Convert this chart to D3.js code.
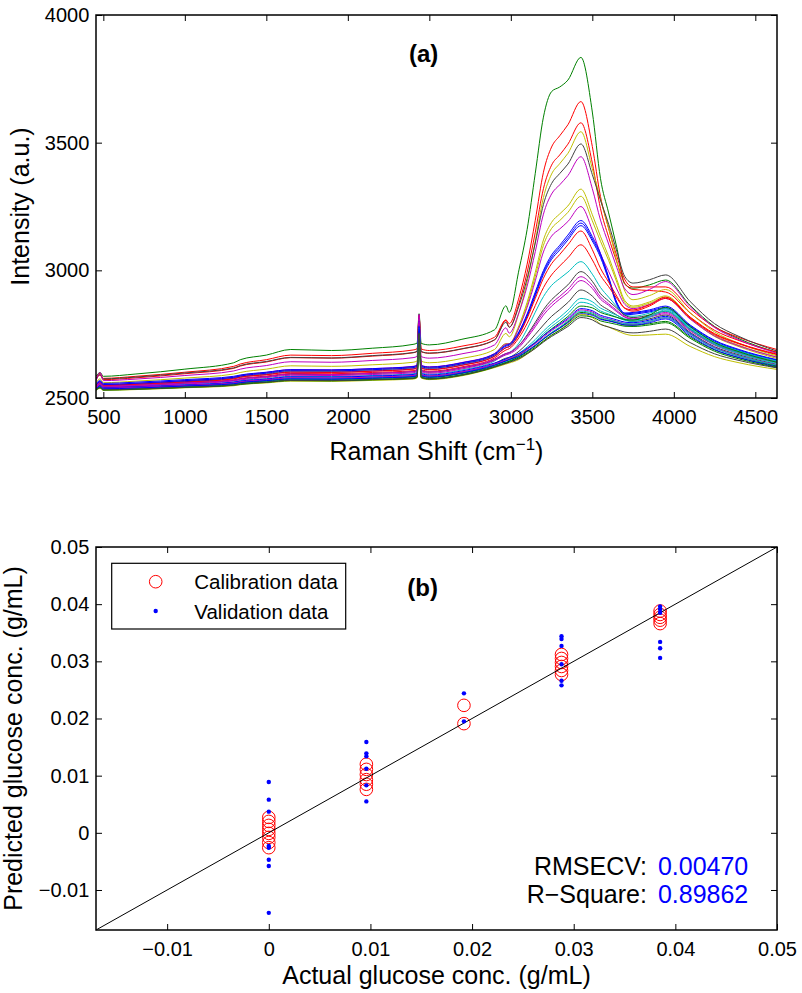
<!DOCTYPE html>
<html><head><meta charset="utf-8">
<script src="https://cdn.jsdelivr.net/npm/d3@7"></script>
<style>
body{margin:0;background:#fff}
svg{display:block}
text{font-family:"Liberation Sans",Arial,Helvetica,sans-serif;fill:#000}
</style>
</head><body>
<svg id="c" width="802" height="993"></svg>
<script>
// ---------------- Panel (a): Raman spectra ----------------
const wavenumbers = [456,480,500,700,1000,1300,1340,1500,1650,1900,
  2150,2400,2425,2437,2450,2500,2700,2900,2970,2990,
  3050,3100,3150,3200,3250,3300,3350,3430,3500,3550,
  3600,3650,3700,3750,3850,3950,4100,4250,4400,4632];

const s01 = [2585,2600,2585,2594,2613,2638,2650,2668,2690,2686, 2695,2710,2715,2830,2714,2708,2730,2767,2861,2835, 3002,3160,3380,3600,3700,3718,3745,3834,3620,3360, 3225,3090,2945,2930,2943,2962,2863,2780,2732,2678];
const s02 = [2577,2597,2577,2585,2601,2624,2633,2650,2668,2666, 2675,2688,2693,2823,2692,2686,2703,2738,2806,2791, 2893,3024,3196,3384,3483,3527,3570,3661,3485,3289, 3164,3056,2963,2935,2935,2935,2849,2778,2737,2690];
const s03 = [2572,2590,2572,2579,2595,2616,2625,2641,2658,2656, 2664,2677,2682,2820,2681,2675,2692,2727,2804,2777, 2871,2992,3149,3320,3412,3452,3494,3578,3420,3242, 3130,3033,2949,2925,2921,2915,2833,2765,2725,2680];
const s04 = [2560,2575,2560,2566,2578,2594,2600,2613,2626,2624, 2630,2640,2645,2810,2644,2638,2655,2690,2753,2740, 2834,2955,3113,3285,3377,3418,3458,3543,3398,3278, 3165,3037,2918,2885,2901,2925,2834,2759,2714,2665];
const s05 = [2575,2592,2575,2582,2598,2618,2627,2643,2659,2657, 2666,2678,2683,2815,2682,2676,2693,2728,2797,2777, 2861,2968,3107,3258,3340,3379,3416,3495,3375,3275, 3181,3075,2975,2950,2963,2982,2878,2791,2741,2684];
const s06 = [2568,2600,2568,2574,2588,2606,2613,2627,2642,2640, 2647,2658,2663,2828,2662,2656,2673,2708,2775,2754, 2835,2938,3073,3220,3299,3335,3371,3445,3320,3197, 3103,3011,2927,2905,2925,2956,2858,2776,2728,2675];
const s07 = [2550,2562,2550,2555,2566,2580,2586,2598,2609,2608, 2613,2622,2627,2800,2626,2620,2637,2672,2713,2713, 2784,2875,2992,3119,3188,3221,3252,3318,3218,3133, 3054,2965,2881,2860,2876,2900,2816,2746,2706,2660];
const s08 = [2548,2560,2548,2553,2563,2577,2583,2594,2605,2604, 2610,2618,2623,2795,2622,2616,2633,2668,2708,2708, 2777,2864,2976,3098,3164,3195,3227,3290,3194,3114, 3039,2954,2874,2855,2871,2895,2811,2741,2701,2655];
const s09 = [2552,2565,2552,2557,2568,2582,2588,2600,2611,2610, 2615,2624,2629,2805,2628,2622,2639,2674,2711,2712, 2775,2855,2959,3072,3134,3162,3191,3250,3157,3065, 2996,2927,2866,2850,2866,2890,2809,2743,2704,2660];
const s10 = [2557,2568,2557,2562,2572,2585,2590,2601,2611,2610, 2615,2623,2628,2800,2627,2621,2638,2673,2707,2711, 2760,2829,2915,2999,3060,3098,3138,3195,3132,3066, 2974,2875,2833,2835,2845,2860,2786,2726,2690,2650];
const s11 = [2553,2564,2553,2558,2568,2581,2586,2597,2607,2606, 2611,2619,2624,2795,2623,2617,2634,2669,2703,2707, 2756,2823,2907,2992,3051,3090,3128,3185,3123,3059, 2969,2871,2830,2832,2841,2855,2783,2723,2687,2648];
const s12 = [2550,2561,2550,2554,2564,2577,2582,2592,2602,2601, 2606,2614,2619,2790,2618,2612,2629,2664,2697,2701, 2750,2818,2900,2984,3043,3080,3119,3175,3115,3051, 2963,2866,2826,2828,2837,2850,2778,2719,2684,2645];
const s13 = [2548,2559,2548,2553,2562,2575,2581,2591,2601,2600, 2605,2613,2618,2785,2617,2611,2628,2663,2697,2701, 2747,2812,2890,2969,3026,3062,3100,3154,3081,3008, 2954,2899,2851,2840,2860,2890,2813,2749,2712,2670];
const s14 = [2545,2556,2545,2549,2559,2571,2576,2586,2596,2595, 2600,2607,2612,2780,2611,2605,2622,2657,2688,2693, 2736,2792,2862,2932,2982,3017,3049,3100,3041,2980, 2936,2891,2852,2845,2865,2895,2817,2752,2714,2672];
const s15 = [2540,2551,2540,2544,2552,2563,2568,2576,2585,2584, 2588,2595,2600,2790,2599,2593,2610,2645,2673,2678, 2715,2770,2836,2897,2941,2968,2993,3034,2985,2933, 2895,2858,2825,2820,2832,2850,2778,2719,2684,2645];
const s16 = [2545,2556,2545,2549,2558,2569,2574,2583,2593,2591, 2596,2603,2608,2790,2607,2601,2618,2650,2674,2677, 2706,2747,2796,2846,2885,2914,2943,2995,2957,2909, 2880,2852,2824,2815,2825,2840,2770,2712,2678,2640];
const s17 = [2546,2560,2546,2550,2559,2570,2575,2584,2594,2592, 2597,2604,2609,2800,2608,2602,2619,2652,2674,2678, 2705,2743,2788,2836,2872,2898,2926,2975,2941,2896, 2869,2843,2819,2810,2820,2835,2767,2710,2677,2640];
const s18 = [2543,2556,2543,2547,2555,2567,2571,2580,2589,2588, 2592,2599,2604,2795,2603,2597,2614,2647,2669,2673, 2698,2736,2779,2825,2860,2887,2913,2960,2929,2887, 2863,2838,2816,2808,2817,2830,2763,2707,2674,2638];
const s19 = [2538,2548,2538,2542,2549,2559,2563,2571,2579,2578, 2582,2588,2593,2770,2592,2586,2602,2635,2656,2659, 2683,2713,2749,2786,2820,2846,2874,2923,2899,2865, 2845,2825,2807,2800,2810,2825,2757,2701,2669,2632];
const s20 = [2536,2547,2536,2540,2547,2557,2561,2569,2577,2576, 2580,2586,2591,2780,2590,2584,2600,2633,2652,2657, 2675,2700,2729,2762,2791,2816,2844,2890,2877,2852, 2838,2824,2810,2805,2821,2845,2773,2714,2679,2640];
const s21 = [2535,2545,2535,2538,2546,2555,2559,2567,2574,2573, 2577,2583,2588,2775,2587,2581,2597,2628,2646,2652, 2669,2693,2721,2752,2780,2804,2831,2875,2864,2841, 2829,2816,2804,2800,2816,2840,2768,2709,2674,2635];
const s22 = [2534,2543,2534,2537,2545,2554,2558,2566,2573,2572, 2576,2582,2587,2760,2586,2580,2596,2627,2646,2651, 2668,2691,2716,2745,2771,2794,2819,2860,2853,2835, 2825,2816,2807,2805,2825,2855,2780,2717,2681,2640];
const s23 = [2540,2550,2540,2544,2551,2562,2566,2574,2583,2582, 2586,2592,2597,2785,2596,2590,2606,2637,2653,2659, 2674,2695,2717,2744,2768,2789,2812,2850,2842,2824, 2815,2806,2797,2795,2805,2820,2753,2697,2664,2628];
const s24 = [2538,2552,2538,2542,2549,2559,2563,2571,2579,2578, 2582,2588,2593,2790,2592,2586,2602,2633,2649,2655, 2670,2691,2713,2739,2764,2785,2807,2845,2837,2819, 2810,2801,2792,2790,2800,2815,2750,2697,2665,2630];
const s25 = [2533,2543,2533,2536,2543,2552,2556,2563,2571,2570, 2573,2579,2584,2775,2583,2577,2592,2624,2641,2646, 2662,2683,2707,2733,2757,2778,2802,2840,2833,2816, 2808,2799,2791,2790,2800,2815,2750,2695,2664,2628];
const s26 = [2532,2541,2532,2535,2542,2551,2555,2562,2570,2569, 2572,2578,2583,2760,2582,2576,2591,2623,2639,2644, 2661,2681,2704,2730,2754,2774,2798,2835,2828,2811, 2803,2795,2786,2785,2791,2800,2739,2688,2658,2625];
const s27 = [2536,2547,2536,2539,2547,2556,2560,2568,2575,2574, 2578,2584,2589,2780,2588,2582,2598,2629,2645,2650, 2664,2685,2706,2731,2753,2773,2795,2830,2824,2808, 2802,2794,2786,2785,2795,2810,2744,2690,2658,2622];
const s28 = [2530,2538,2530,2533,2540,2548,2552,2559,2566,2565, 2569,2574,2579,2740,2578,2572,2587,2619,2633,2637, 2651,2672,2695,2722,2746,2766,2790,2828,2815,2790, 2778,2764,2751,2745,2747,2750,2702,2662,2638,2612];
const s29 = [2531,2540,2531,2534,2541,2550,2553,2561,2568,2567, 2571,2576,2581,2750,2580,2574,2589,2621,2637,2642, 2657,2676,2699,2723,2746,2765,2787,2822,2817,2802, 2795,2788,2781,2780,2786,2795,2734,2683,2653,2620];
const s30 = [2532,2541,2532,2535,2542,2551,2555,2562,2569,2568, 2572,2577,2582,2755,2581,2575,2590,2622,2636,2640, 2654,2673,2694,2719,2741,2760,2780,2815,2806,2788, 2778,2768,2758,2755,2761,2770,2717,2673,2647,2618];

const spectra = [s01,s02,s03,s04,s05,s06,s07,s08,s09,s10,s11,s12,s13,s14,s15,
                 s16,s17,s18,s19,s20,s21,s22,s23,s24,s25,s26,s27,s28,s29,s30];
const spectraColors = ["#008000","#ff0000","#ff0000","#bfbf00","#404040","#bf00bf",
  "#bfbf00","#bfbf00","#bf00bf","#0000ff","#0000ff","#0000ff","#ff0000","#ff0000",
  "#00bfbf","#404040","#bf00bf","#bf00bf","#404040","#00bfbf","#00bfbf","#008000",
  "#0000ff","#bf00bf","#00bfbf","#008000","#0000ff","#bfbf00","#008000","#404040"];

const ramanTicks = [500,1000,1500,2000,2500,3000,3500,4000,4500];
const intensityTicks = [2500,3000,3500,4000];
const ramanDomain = [455,4633];
const intensityDomain = [2500,4000];

// ---------------- Panel (b): calibration / validation ----------------
const concLevels = [0, 0.0096, 0.0192, 0.0288, 0.0385];
const calibPredicted = [
  [0.0027,0.0020,0.0013,0.0006,-0.0001,-0.0008,-0.0017,-0.0026],
  [0.0120,0.0111,0.0102,0.0093,0.0085,0.0076],
  [0.0223,0.0191],
  [0.0312,0.0305,0.0298,0.0291,0.0284,0.0277],
  [0.0388,0.0382,0.0377,0.0372,0.0366]
];
const validPredicted = [
  [0.0089,0.0058,0.0037,-0.0023,-0.0026,-0.0047,-0.0058,-0.0140],
  [0.0159,0.0139,0.0134,0.0112,0.0083,0.0055],
  [0.0244,0.0195],
  [0.0344,0.0339,0.0327,0.0295,0.0266,0.0258],
  [0.0396,0.0391,0.0385,0.0334,0.0323,0.0306]
];
const concTicks = [-0.01,0,0.01,0.02,0.03,0.04,0.05];
const concTickLabels = ["\u22120.01","0","0.01","0.02","0.03","0.04","0.05"];
const concDomain = [-0.017,0.05];
const rmsecvValue = "0.00470";
const rSquareValue = "0.89862";

// ---------------- drawing ----------------
const svg = d3.select("#c");
const FONT = '"Liberation Sans",Arial,Helvetica,sans-serif';

function drawAxes(g, x, y, box, xt, yt, xfmt, yfmt) {
  const style = sel => {
    sel.select(".domain").remove();
    sel.selectAll(".tick line").attr("stroke","#000").attr("stroke-width",1);
    sel.selectAll(".tick text").attr("font-size",20).attr("font-family",FONT).attr("fill","#000");
    sel.attr("font-family",null).attr("font-size",null);
  };
  g.append("g").attr("transform",`translate(0,${box.b})`)
    .call(d3.axisBottom(x).tickValues(xt).tickFormat(xfmt).tickSizeInner(-6).tickSizeOuter(0).tickPadding(11.8)).call(style);
  g.append("g").attr("transform",`translate(0,${box.t})`)
    .call(d3.axisTop(x).tickValues(xt).tickFormat("").tickSizeInner(-6).tickSizeOuter(0)).call(style);
  g.append("g").attr("transform",`translate(${box.l},0)`)
    .call(d3.axisLeft(y).tickValues(yt).tickFormat(yfmt).tickSizeInner(-6).tickSizeOuter(0).tickPadding(6.7)).call(style);
  g.append("g").attr("transform",`translate(${box.r},0)`)
    .call(d3.axisRight(y).tickValues(yt).tickFormat("").tickSizeInner(-6).tickSizeOuter(0)).call(style);
  g.append("rect").attr("x",box.l).attr("y",box.t).attr("width",box.r-box.l).attr("height",box.b-box.t)
    .attr("fill","none").attr("stroke","#000").attr("stroke-width",1.5);
}

// Panel (a)
const boxA = {l:96, r:777, t:15, b:398};
const xA = d3.scaleLinear().domain(ramanDomain).range([boxA.l, boxA.r]);
const yA = d3.scaleLinear().domain(intensityDomain).range([boxA.b, boxA.t]);
svg.append("clipPath").attr("id","clipA").append("rect")
  .attr("x",boxA.l).attr("y",boxA.t).attr("width",boxA.r-boxA.l).attr("height",boxA.b-boxA.t);
const gA = svg.append("g");
const lineA = d3.line().x((d,i)=>xA(wavenumbers[i])).y(d=>yA(d)).curve(d3.curveMonotoneX);
const gLines = gA.append("g").attr("clip-path","url(#clipA)");
spectra.forEach((s,i)=>{
  gLines.append("path").attr("d",lineA(s)).attr("fill","none")
    .attr("stroke",spectraColors[i]).attr("stroke-width",1).attr("stroke-linejoin","round");
});
drawAxes(gA, xA, yA, boxA, ramanTicks, intensityTicks, d3.format("d"), d3.format("d"));

gA.append("text").attr("x",xA(2375)).attr("y",yA(3817)).attr("font-size",24).attr("font-weight","bold").text("(a)");
const xlabA = gA.append("text").attr("x",(boxA.l+boxA.r)/2).attr("y",460).attr("text-anchor","middle").attr("font-size",25);
xlabA.append("tspan").text("Raman Shift (cm");
xlabA.append("tspan").attr("dy",-10).attr("font-size",17).text("\u22121");
xlabA.append("tspan").attr("dy",10).text(")");
gA.append("text").attr("transform",`translate(29.3,${(boxA.t+boxA.b)/2}) rotate(-90)`)
  .attr("text-anchor","middle").attr("font-size",25).text("Intensity (a.u.)");

// Panel (b)
const boxB = {l:96, r:777, t:547, b:930};
const xB = d3.scaleLinear().domain(concDomain).range([boxB.l, boxB.r]);
const yB = d3.scaleLinear().domain(concDomain).range([boxB.b, boxB.t]);
const gB = svg.append("g");
const calibPts = [], validPts = [];
concLevels.forEach((c,i)=>{
  calibPredicted[i].forEach(v=>calibPts.push([c,v]));
  validPredicted[i].forEach(v=>validPts.push([c,v]));
});
gB.selectAll("circle.cal").data(calibPts).join("circle").attr("class","cal")
  .attr("cx",d=>xB(d[0])).attr("cy",d=>yB(d[1])).attr("r",6.3)
  .attr("fill","none").attr("stroke","#ff0000").attr("stroke-width",1);
gB.append("line").attr("x1",xB(concDomain[0])).attr("y1",yB(concDomain[0]))
  .attr("x2",xB(concDomain[1])).attr("y2",yB(concDomain[1])).attr("stroke","#000").attr("stroke-width",1);
gB.selectAll("circle.val").data(validPts).join("circle").attr("class","val")
  .attr("cx",d=>xB(d[0])).attr("cy",d=>yB(d[1])).attr("r",2.2).attr("fill","#0000ff");
drawAxes(gB, xB, yB, boxB, concTicks, concTicks,
  (d,i)=>concTickLabels[i], (d,i)=>concTickLabels[i]);

// legend
const lg = gB.append("g");
lg.append("rect").attr("x",111.7).attr("y",563.3).attr("width",234).attr("height",65.7)
  .attr("fill","#fff").attr("stroke","#000").attr("stroke-width",1.2);
lg.append("circle").attr("cx",155.7).attr("cy",581.7).attr("r",6.3).attr("fill","none").attr("stroke","#ff0000");
lg.append("circle").attr("cx",155.7).attr("cy",611).attr("r",2.2).attr("fill","#0000ff");
lg.append("text").attr("x",194.3).attr("y",589).attr("font-size",20.5).text("Calibration data");
lg.append("text").attr("x",194.3).attr("y",619).attr("font-size",20.5).text("Validation data");

gB.append("text").attr("x",xB(0.01363)).attr("y",yB(0.04135)).attr("font-size",24).attr("font-weight","bold").text("(b)");
gB.append("text").attr("x",xB(0.0372)).attr("y",yB(-0.0074)).attr("text-anchor","end").attr("font-size",25).text("RMSECV:");
gB.append("text").attr("x",xB(0.03828)).attr("y",yB(-0.0074)).attr("font-size",25).attr("fill","#0000ff").style("fill","#0000ff").text(rmsecvValue);
gB.append("text").attr("x",xB(0.0372)).attr("y",yB(-0.01235)).attr("text-anchor","end").attr("font-size",25).text("R\u2212Square:");
gB.append("text").attr("x",xB(0.03828)).attr("y",yB(-0.01235)).attr("font-size",25).style("fill","#0000ff").text(rSquareValue);

gB.append("text").attr("x",(boxB.l+boxB.r)/2).attr("y",984).attr("text-anchor","middle").attr("font-size",25).text("Actual glucose conc. (g/mL)");
gB.append("text").attr("transform",`translate(21.7,${(boxB.t+boxB.b)/2}) rotate(-90)`)
  .attr("text-anchor","middle").attr("font-size",25).text("Predicted glucose conc. (g/mL)");
</script>
</body></html>
